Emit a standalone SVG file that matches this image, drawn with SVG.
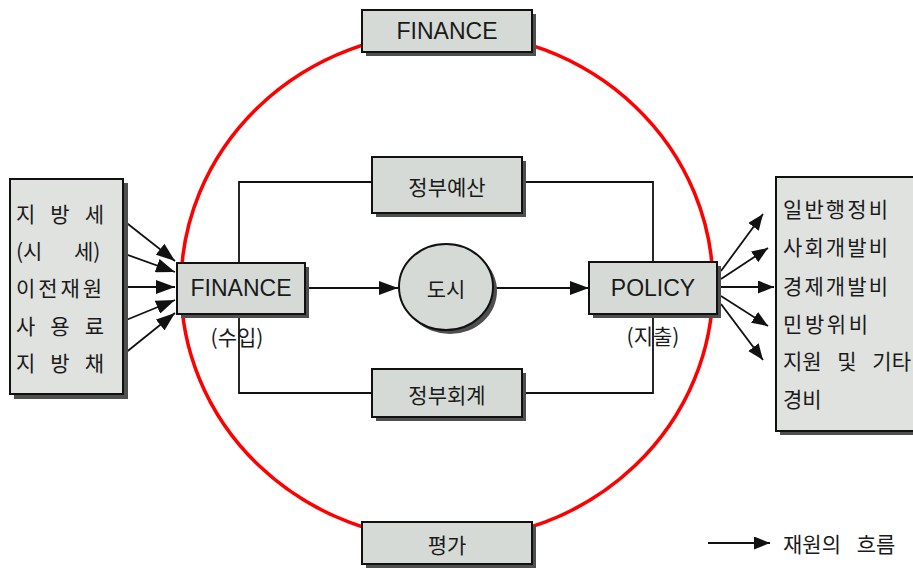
<svg xmlns="http://www.w3.org/2000/svg" width="913" height="568" viewBox="0 0 913 568">
<defs>
<style>
.bx{fill:#d6dad6;stroke:#111;stroke-width:2}
.sh{fill:#4f4f4f}
.lst{fill:#dfe2df;stroke:#111;stroke-width:2}
.t{font-family:"Liberation Sans","Noto Sans CJK KR",sans-serif;font-size:23px;fill:#1a1a1a;dominant-baseline:central}
.k{font-family:"Noto Sans CJK KR",sans-serif;font-size:21px;fill:#1a1a1a;dominant-baseline:central}
.ln{fill:none;stroke:#111;stroke-width:1.8}
</style>
<marker id="ah" markerUnits="userSpaceOnUse" markerWidth="20" markerHeight="14" refX="19" refY="7" orient="auto"><path d="M0,0 L19,7 L0,14 z" fill="#111"/></marker>
<marker id="as" markerUnits="userSpaceOnUse" markerWidth="17" markerHeight="13" refX="16" refY="6.5" orient="auto"><path d="M0,0 L16,6.5 L0,13 z" fill="#111"/></marker>
</defs>
<rect width="913" height="568" fill="#fff"/>
<ellipse cx="447" cy="286" rx="266" ry="254" fill="none" stroke="#f00" stroke-width="3.5"/>
<g id="connectors">
<path class="ln" d="M239,262 V182 H372 M522,182 H653 V262"/>
<path class="ln" d="M239,314 V393 H372 M522,393 H653 V314"/>
<line class="ln" x1="305" y1="288" x2="398" y2="288" marker-end="url(#ah)"/>
<line class="ln" x1="493" y1="288" x2="589" y2="288" marker-end="url(#ah)"/>
<g fill="#111"><circle cx="114" cy="213" r="2.5"/><circle cx="114" cy="250" r="2.5"/><circle cx="114" cy="287" r="2.5"/><circle cx="114" cy="325" r="2.5"/><circle cx="114" cy="362" r="2.5"/></g>
<line class="ln" x1="114" y1="213" x2="175" y2="261" marker-end="url(#ah)"/>
<line class="ln" x1="114" y1="250" x2="175" y2="272" marker-end="url(#ah)"/>
<line class="ln" x1="114" y1="287" x2="175" y2="287" marker-end="url(#ah)"/>
<line class="ln" x1="114" y1="325" x2="175" y2="300" marker-end="url(#ah)"/>
<line class="ln" x1="114" y1="362" x2="175" y2="313" marker-end="url(#ah)"/>
<line class="ln" x1="721" y1="271" x2="763" y2="214" marker-end="url(#as)"/>
<line class="ln" x1="721" y1="279" x2="768" y2="248" marker-end="url(#as)"/>
<line class="ln" x1="721" y1="287" x2="774" y2="287" marker-end="url(#as)"/>
<line class="ln" x1="721" y1="296" x2="768" y2="326" marker-end="url(#as)"/>
<line class="ln" x1="721" y1="304" x2="763" y2="360" marker-end="url(#as)"/>
<line class="ln" x1="708" y1="543" x2="770" y2="543" marker-end="url(#as)"/>
</g>
<g id="finance-top">
<rect class="sh" x="366" y="14" width="170" height="42"/>
<rect class="bx" x="362" y="10" width="170" height="42"/>
<text class="t" x="447" y="31" text-anchor="middle">FINANCE</text>
</g>
<g id="eval">
<rect class="sh" x="366" y="526" width="170" height="42"/>
<rect class="bx" x="362" y="522" width="170" height="42"/>
<text class="k" x="447" y="544" text-anchor="middle">평가</text>
</g>
<g id="budget">
<rect class="sh" x="376" y="161" width="150" height="56"/>
<rect class="bx" x="372" y="157" width="150" height="56"/>
<text class="k" x="447" y="186" text-anchor="middle">정부예산</text>
</g>
<g id="account">
<rect class="sh" x="376" y="373" width="150" height="48"/>
<rect class="bx" x="372" y="369" width="150" height="48"/>
<text class="k" x="447" y="394" text-anchor="middle">정부회계</text>
</g>
<g id="finance">
<rect class="sh" x="181" y="267" width="128" height="51"/>
<rect class="bx" x="177" y="263" width="128" height="51"/>
<text class="t" x="241" y="288" text-anchor="middle">FINANCE</text>
<text class="k" x="237" y="336" text-anchor="middle" font-size="20">(수입)</text>
</g>
<g id="city">
<ellipse cx="450" cy="291" rx="47" ry="43" class="sh"/>
<ellipse cx="446" cy="287" rx="47" ry="43" class="bx"/>
<text class="k" x="446" y="288" text-anchor="middle">도시</text>
</g>
<g id="policy">
<rect class="sh" x="593" y="266" width="128" height="52"/>
<rect class="bx" x="589" y="262" width="128" height="52"/>
<text class="t" x="653" y="288" text-anchor="middle">POLICY</text>
<text class="k" x="653" y="335" text-anchor="middle" font-size="20">(지출)</text>
</g>
<g id="revenue-list">
<rect class="sh" x="14" y="183" width="114" height="216"/>
<rect class="lst" x="10" y="179" width="113" height="215"/>
<text class="k" x="16" y="213" textLength="88" lengthAdjust="spacing">지 방 세</text>
<text class="k" x="16" y="250" xml:space="preserve">(시    <tspan x="74">세)</tspan></text>
<text class="k" x="16" y="287" textLength="86" lengthAdjust="spacing">이전재원</text>
<text class="k" x="16" y="325" textLength="88" lengthAdjust="spacing">사 용 료</text>
<text class="k" x="16" y="362" textLength="88" lengthAdjust="spacing">지 방 채</text>
</g>
<g id="expense-list">
<rect class="sh" x="780" y="181" width="140" height="254"/>
<rect class="lst" x="776" y="177" width="140" height="254"/>
<text class="k" x="783" y="208" textLength="105" lengthAdjust="spacing">일반행정비</text>
<text class="k" x="783" y="246" textLength="105" lengthAdjust="spacing">사회개발비</text>
<text class="k" x="783" y="285" textLength="105" lengthAdjust="spacing">경제개발비</text>
<text class="k" x="783" y="323" textLength="85" lengthAdjust="spacing">민방위비</text>
<text class="k" x="783" y="360" word-spacing="11">지원 및 기타</text>
<text class="k" x="783" y="398">경비</text>
</g>
<g id="legend">
<text class="k" x="783" y="543" font-size="20" word-spacing="11">재원의 흐름</text>
</g>
</svg>
